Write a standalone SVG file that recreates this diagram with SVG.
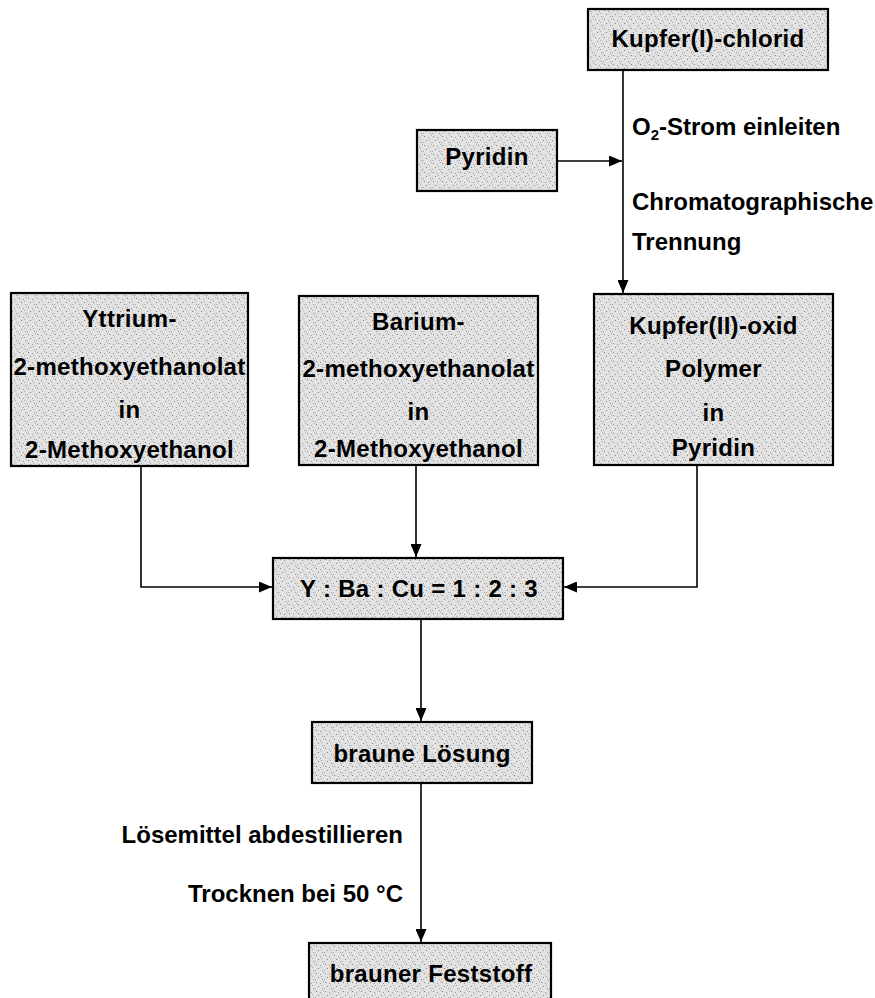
<svg xmlns="http://www.w3.org/2000/svg" width="875" height="998" viewBox="0 0 875 998">
  <defs>
    <!-- stippled grey fill used by every box -->
    <pattern id="stipple" width="9" height="9" patternUnits="userSpaceOnUse">
      <rect width="9" height="9" fill="#e2e2e2"/>
      <rect x="1" y="1" width="1" height="1" fill="#808080"/>
      <rect x="5" y="2" width="1" height="1" fill="#989898"/>
      <rect x="3" y="5" width="1" height="1" fill="#808080"/>
      <rect x="7" y="7" width="1" height="1" fill="#a0a0a0"/>
      <rect x="0" y="7" width="1" height="1" fill="#a8a8a8"/>
      <rect x="6" y="4" width="1" height="1" fill="#b0b0b0"/>
      <rect x="8" y="0" width="1" height="1" fill="#b0b0b0"/>
    </pattern>
    <marker id="arrow" markerWidth="13" markerHeight="11" refX="13" refY="5.5" orient="auto" markerUnits="userSpaceOnUse">
      <path d="M0,0 L13,5.5 L0,11 Z" fill="#000"/>
    </marker>
  </defs>
  <style>
    .box { fill: url(#stipple); stroke: #000; stroke-width: 2.2; }
    .lbl { font-family: "Liberation Sans", Arial, sans-serif; font-weight: bold; font-size: 24px; letter-spacing: 0.3px; fill: #000; text-anchor: middle; }
    .note { font-family: "Liberation Sans", Arial, sans-serif; font-weight: bold; font-size: 24px; fill: #000; }
    .conn { fill: none; stroke: #000; stroke-width: 1.6; }
  </style>

  <g id="connectors">
    <path class="conn" d="M623,70 L623,293" marker-end="url(#arrow)"/>
    <path class="conn" d="M557,161 L622,161" marker-end="url(#arrow)"/>
    <path class="conn" d="M141,466 L141,587 L272,587" marker-end="url(#arrow)"/>
    <path class="conn" d="M416,465 L416,557" marker-end="url(#arrow)"/>
    <path class="conn" d="M697,465 L697,587 L564,587" marker-end="url(#arrow)"/>
    <path class="conn" d="M421,619 L421,721" marker-end="url(#arrow)"/>
    <path class="conn" d="M421,783 L421,942" marker-end="url(#arrow)"/>
  </g>

  <g id="kupfer-i-chlorid">
    <rect class="box" x="588" y="9" width="240" height="61"/>
    <text class="lbl" x="708" y="47">Kupfer(I)-chlorid</text>
  </g>

  <g id="pyridin">
    <rect class="box" x="417" y="130" width="140" height="61"/>
    <text class="lbl" x="487" y="165">Pyridin</text>
  </g>

  <g id="step-labels-top">
    <text class="note" x="632" y="135">O<tspan font-size="15" dy="5">2</tspan><tspan dy="-5">-Strom einleiten</tspan></text>
    <text class="note" x="632" y="210">Chromatographische</text>
    <text class="note" x="632" y="250">Trennung</text>
  </g>

  <g id="yttrium">
    <rect class="box" x="11" y="293" width="237" height="173"/>
    <text class="lbl" x="129.5" y="327">Yttrium-</text>
    <text class="lbl" x="129.5" y="375">2-methoxyethanolat</text>
    <text class="lbl" x="129.5" y="418">in</text>
    <text class="lbl" x="129.5" y="458">2-Methoxyethanol</text>
  </g>

  <g id="barium">
    <rect class="box" x="299" y="296" width="239" height="169"/>
    <text class="lbl" x="418.5" y="330">Barium-</text>
    <text class="lbl" x="418.5" y="377">2-methoxyethanolat</text>
    <text class="lbl" x="418.5" y="420">in</text>
    <text class="lbl" x="418.5" y="457">2-Methoxyethanol</text>
  </g>

  <g id="kupfer-ii-oxid">
    <rect class="box" x="594" y="294" width="239" height="171"/>
    <text class="lbl" x="713.5" y="334">Kupfer(II)-oxid</text>
    <text class="lbl" x="713.5" y="377">Polymer</text>
    <text class="lbl" x="713.5" y="421">in</text>
    <text class="lbl" x="713.5" y="456">Pyridin</text>
  </g>

  <g id="verhaeltnis">
    <rect class="box" x="273" y="558" width="290" height="61"/>
    <text class="lbl" x="419" y="597">Y : Ba : Cu = 1 : 2 : 3</text>
  </g>

  <g id="braune-loesung">
    <rect class="box" x="312" y="722" width="220" height="61"/>
    <text class="lbl" x="422" y="762">braune Lösung</text>
  </g>

  <g id="step-labels-bottom">
    <text class="note" x="403" y="843" text-anchor="end">Lösemittel abdestillieren</text>
    <text class="note" x="403" y="902" text-anchor="end">Trocknen bei 50 °C</text>
  </g>

  <g id="brauner-feststoff">
    <rect class="box" x="309" y="943" width="242" height="60"/>
    <text class="lbl" x="431" y="982">brauner Feststoff</text>
  </g>
</svg>
